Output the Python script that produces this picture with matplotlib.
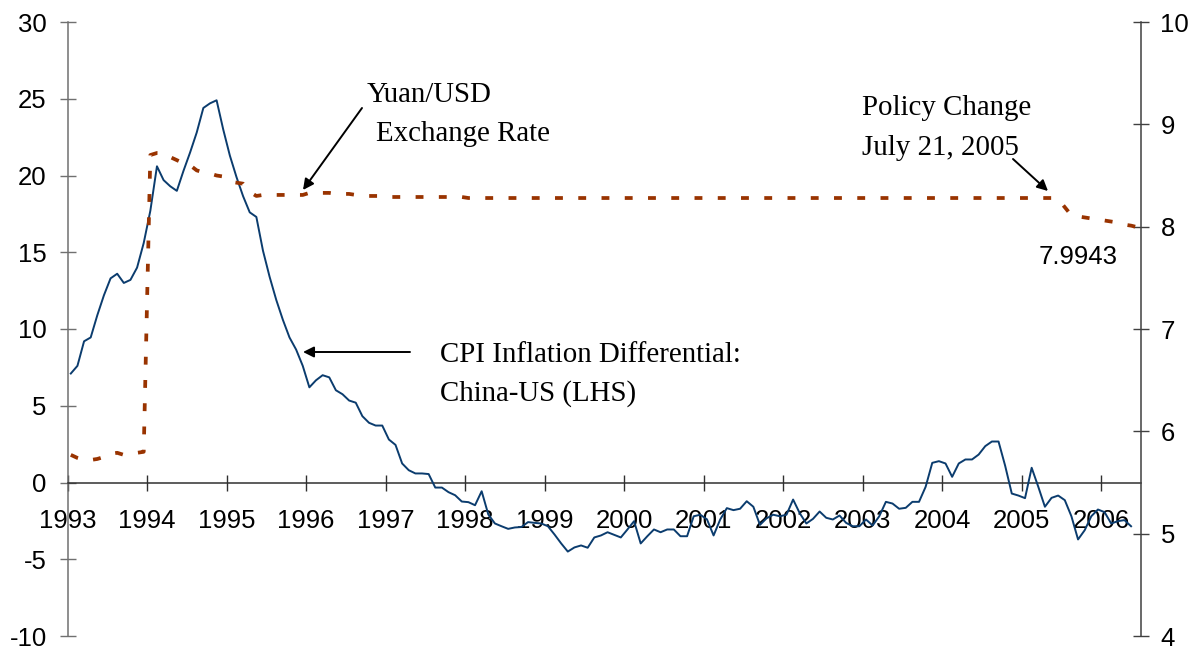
import matplotlib
matplotlib.use("Agg")
from matplotlib import pyplot as plt
import numpy as np

plt.rcParams["axes.unicode_minus"] = False

# monthly data, Jan 1993 onwards
cpi_diff = [
    7.1, 7.6, 9.2, 9.45, 10.9, 12.2, 13.3, 13.6, 13.0, 13.2, 14.0, 15.6,            # 1993
    17.7, 20.6, 19.7, 19.3, 19.0, 20.3, 21.5, 22.8, 24.4, 24.7, 24.9, 23.0,          # 1994
    21.3, 19.9, 18.65, 17.6, 17.3, 15.1, 13.4, 11.9, 10.6, 9.45, 8.66, 7.6,          # 1995
    6.2, 6.66, 6.99, 6.85, 6.01, 5.75, 5.34, 5.2, 4.32, 3.89, 3.71, 3.71,            # 1996
    2.8, 2.45, 1.24, 0.8, 0.59, 0.59, 0.55, -0.33, -0.33, -0.63, -0.83, -1.24,       # 1997
    -1.28, -1.48, -0.57, -2.08, -2.67, -2.85, -3.02, -2.93, -2.9, -2.58, -2.63, -2.67,  # 1998
    -2.85, -3.39, -3.97, -4.5, -4.23, -4.1, -4.25, -3.58, -3.45, -3.24, -3.41, -3.58,   # 1999
    -3.06, -2.52, -3.97, -3.5, -3.06, -3.24, -3.06, -3.06, -3.5, -3.5, -2.2, -2.1,      # 2000
    -2.4, -3.45, -2.41, -1.67, -1.8, -1.71, -1.22, -1.58, -2.76, -2.33, -2.1, -2.2,     # 2001
    -2.1, -1.11, -2.0, -2.67, -2.37, -1.89, -2.3, -2.41, -2.15, -2.63, -2.85, -2.85,    # 2002
    -2.41, -2.8, -2.2, -1.26, -1.37, -1.71, -1.65, -1.26, -1.26, -0.28, 1.28, 1.39,     # 2003
    1.24, 0.37, 1.24, 1.5, 1.5, 1.82, 2.37, 2.67, 2.67, 1.09, -0.72, -0.85,             # 2004
    -1.02, 0.96, -0.28, -1.58, -1.0, -0.85, -1.15, -2.2, -3.71, -3.11, -2.2, -1.76,     # 2005
    -1.93, -2.67, -2.52, -2.45, -2.85,                                                  # 2006
]

yuan_usd = (
    [5.77, 5.74, 5.72, 5.72, 5.73, 5.75, 5.78, 5.79, 5.77, 5.78, 5.79, 5.80]          # 1993
    + [8.70, 8.72, 8.72, 8.68, 8.65, 8.62, 8.60, 8.55, 8.53, 8.52, 8.50, 8.49]        # 1994
    + [8.44, 8.43, 8.42, 8.34, 8.30, 8.31, 8.31, 8.31, 8.31, 8.31, 8.31, 8.31]        # 1995
    + [8.33, 8.33, 8.33, 8.33, 8.32, 8.32, 8.32, 8.31, 8.30, 8.30, 8.30, 8.30]        # 1996
    + [8.29] * 12                                                                      # 1997
    + [8.28] * 12 * 7                                                                  # 1998-2004
    + [8.28, 8.28, 8.28, 8.28, 8.28, 8.27, 8.19, 8.11, 8.10, 8.09, 8.08, 8.07]        # 2005
    + [8.06, 8.05, 8.04, 8.02, 8.01, 7.9943]                                          # 2006
)

years = list(range(1993, 2007))
last_rate_label = "7.9943"

t_cpi = 1993 + (np.arange(len(cpi_diff)) + 0.5) / 12
t_fx = 1993 + (np.arange(len(yuan_usd)) + 0.5) / 12

W, H = 1202, 650
fig = plt.figure(figsize=(W / 100, H / 100), dpi=100)
ax = fig.add_axes([67.5 / W, 1 - 636 / H, (1141 - 67.5) / W, (636 - 22) / H])
ax2 = ax.twinx()

sans = "Liberation Sans"
serif = "Liberation Serif"

ax.plot(t_cpi, cpi_diff, color="#0B3C6E", lw=1.4, zorder=3)
ax2.plot(t_fx, yuan_usd, color="#993300", lw=2.7, dashes=(2.1, 4.1),
         dash_capstyle="butt", zorder=3)

ax.set_xlim(1993, 2006.5)
ax.set_ylim(-10, 30)
ax2.set_ylim(4, 10)
ax.set_yticks(range(-10, 31, 5))
ax2.set_yticks(range(4, 11))
ax.set_xticks(years)
ax.set_xticklabels([str(y) for y in years])

for s in ["top", "right"]:
    ax.spines[s].set_visible(False)
for s in ["top", "bottom", "left"]:
    ax2.spines[s].set_visible(False)
ax.spines["bottom"].set_position(("data", 0))
ax.spines["left"].set_color("#707070")
ax.spines["bottom"].set_color("#303030")
ax2.spines["right"].set_color("#404040")
for sp in list(ax.spines.values()) + list(ax2.spines.values()):
    sp.set_linewidth(1.1)

lsize = 18.5
ax.tick_params(axis="x", direction="inout", length=12, width=1, pad=13,
               labelsize=lsize, colors="#303030", labelcolor="black")
ax.tick_params(axis="y", direction="inout", length=12, width=1, pad=9,
               labelsize=lsize, colors="#707070", labelcolor="black")
ax2.tick_params(axis="y", direction="inout", length=12, width=1, pad=8,
                labelsize=lsize, colors="#404040", labelcolor="black")
for lab in ax.get_xticklabels() + ax.get_yticklabels() + ax2.get_yticklabels():
    lab.set_fontfamily(sans)


def px(x, y):
    return (x / W, 1 - y / H)


tsize = 20.8
fig.text(*px(367, 102), "Yuan/USD", family=serif, size=tsize, va="baseline")
fig.text(*px(376, 141), "Exchange Rate", family=serif, size=tsize, va="baseline")
fig.text(*px(862, 115), "Policy Change", family=serif, size=tsize, va="baseline")
fig.text(*px(862, 155), "July 21, 2005", family=serif, size=tsize, va="baseline")
fig.text(*px(440, 362), "CPI Inflation Differential:", family=serif, size=tsize, va="baseline")
fig.text(*px(440, 401), "China-US (LHS)", family=serif, size=tsize, va="baseline")
fig.text(*px(1078, 257), last_rate_label, family=sans, size=lsize, ha="center", va="center")

arrow = dict(arrowstyle="-|>", color="black", lw=1.4, mutation_scale=16,
             shrinkA=0, shrinkB=0)
for tail, head in [((362, 108), (303, 190)),
                   ((410, 352), (303, 352)),
                   ((1013, 159), (1048, 191))]:
    fig.add_artist(matplotlib.patches.FancyArrowPatch(
        px(*tail), px(*head), transform=fig.transFigure, **arrow))

fig.savefig("out.png", dpi=100)
